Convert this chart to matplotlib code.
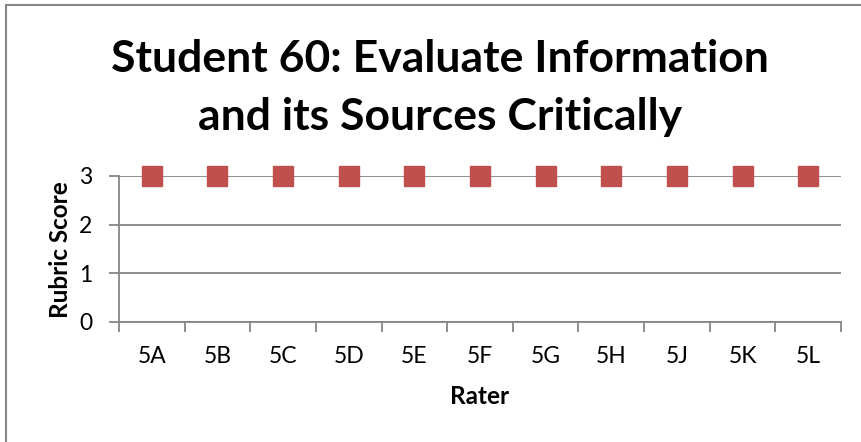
import matplotlib
matplotlib.use("Agg")
import matplotlib.pyplot as plt
from matplotlib.patches import Rectangle

raters = ["5A", "5B", "5C", "5D", "5E", "5F", "5G", "5H", "5J", "5K", "5L"]
scores = [3, 3, 3, 3, 3, 3, 3, 3, 3, 3, 3]
title = "Student 60: Evaluate Information\nand its Sources Critically"

W, H = 861, 442
fig = plt.figure(figsize=(W / 100, H / 100), dpi=100)
plt.rcParams['font.family'] = ['Lato', 'DejaVu Sans']

grey = "#868686"
# outer border (left & top visible)
fig.patches.append(Rectangle((6 / W, -0.1), 1.2, (1 - 5 / H) + 0.1, transform=fig.transFigure,
                             fill=False, edgecolor=grey, linewidth=1.5))

left, right = 119 / W, 841 / W
bottom, top = 1 - 322 / H, 1 - 176 / H
ax = fig.add_axes([left, bottom, right - left, top - bottom])

x = [i + 0.5 for i in range(len(raters))]
ax.plot(x, scores, linestyle="none", marker="s", markersize=13.7,
        color="#C0504D", markeredgecolor="#C0504D", clip_on=False, zorder=5)

ax.set_xlim(0, len(raters))
ax.set_ylim(0, 3)
ax.set_yticks([0, 1, 2, 3])
ax.set_yticklabels(["0", "1", "2", "3"], fontsize=16.5)
ax.set_xticks(range(len(raters) + 1))
ax.set_xticklabels([])
ax.set_xticks(x, minor=True)
ax.set_xticklabels(raters, minor=True, fontsize=16.5)
ax.tick_params(axis="x", which="major", length=7, width=1.3, color=grey, direction="out")
ax.tick_params(axis="x", which="minor", length=0, pad=17)
ax.tick_params(axis="y", length=7, width=1.3, color=grey, direction="out", pad=12)

ax.grid(axis="y", color=grey, linewidth=1.3)
ax.set_axisbelow(True)
for s in ["top", "right"]:
    ax.spines[s].set_visible(False)
for s in ["left", "bottom"]:
    ax.spines[s].set_color(grey)
    ax.spines[s].set_linewidth(1.3)

fig.text(60 / W, 1 - 250 / H, "Rubric Score", rotation=90, ha="center", va="center",
         fontsize=17.5, fontweight="bold")
fig.text(480 / W, 1 - 396 / H, "Rater", ha="center", va="center",
         fontsize=17.5, fontweight="bold")
fig.text(440 / W, 1 - 88 / H, title, ha="center", va="center", fontsize=32,
         fontweight="bold", linespacing=1.55)

fig.savefig("out.png", dpi=100)
